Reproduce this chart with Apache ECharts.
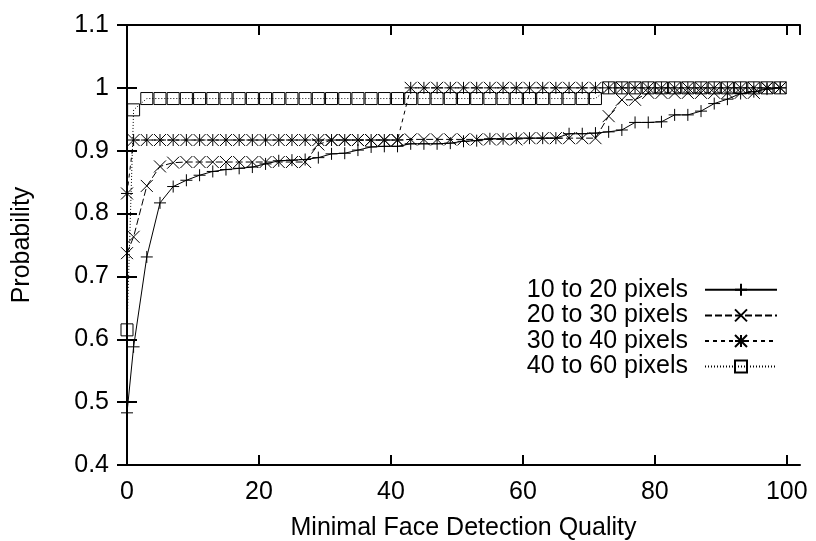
<!DOCTYPE html>
<html><head><meta charset="utf-8">
<script src="https://cdn.jsdelivr.net/npm/echarts@6/dist/echarts.min.js"></script>
<style>html,body{margin:0;padding:0;background:#fff}#c{width:816px;height:541px}</style>
</head><body><div id="c"></div>
<script>
const quality = [0,1,3,5,7,9,11,13,15,17,19,21,23,25,27,29,31,33,35,37,39,41,43,45,47,49,51,53,55,57,59,61,63,65,67,69,71,73,75,77,79,81,83,85,87,89,91,93,95,97,99];
const p10to20 = [0.483,0.588,0.731,0.817,0.843,0.853,0.861,0.867,0.870,0.872,0.874,0.879,0.884,0.885,0.886,0.889,0.895,0.896,0.901,0.906,0.907,0.907,0.911,0.911,0.911,0.912,0.915,0.916,0.919,0.919,0.920,0.920,0.920,0.920,0.927,0.927,0.928,0.930,0.933,0.945,0.945,0.946,0.957,0.957,0.963,0.975,0.982,0.991,0.994,0.998,1.0];
const p20to30 = [0.737,0.763,0.844,0.875,0.881,0.882,0.882,0.882,0.882,0.882,0.882,0.882,0.882,0.882,0.882,0.910,0.917,0.917,0.917,0.917,0.917,0.917,0.918,0.918,0.918,0.918,0.918,0.918,0.918,0.918,0.918,0.920,0.920,0.920,0.920,0.920,0.920,0.955,0.981,0.981,0.992,0.992,0.992,0.992,0.992,0.992,0.992,0.992,0.992,1.0,1.0];
const p30to40 = [0.832,0.917,0.917,0.917,0.917,0.917,0.917,0.917,0.917,0.917,0.917,0.917,0.917,0.917,0.917,0.917,0.917,0.917,0.917,0.917,0.917,0.917,1.0,1.0,1.0,1.0,1.0,1.0,1.0,1.0,1.0,1.0,1.0,1.0,1.0,1.0,1.0,1.0,1.0,1.0,1.0,1.0,1.0,1.0,1.0,1.0,1.0,1.0,1.0,1.0,1.0];
const p40to60 = [0.615,0.965,0.983,0.983,0.983,0.983,0.983,0.983,0.983,0.983,0.983,0.983,0.983,0.983,0.983,0.983,0.983,0.983,0.983,0.983,0.983,0.983,0.983,0.983,0.983,0.983,0.983,0.983,0.983,0.983,0.983,0.983,0.983,0.983,0.983,0.983,0.983,1.0,1.0,1.0,1.0,1.0,1.0,1.0,1.0,1.0,1.0,1.0,1.0,1.0,1.0];
const seriesNames = ['10 to 20 pixels','20 to 30 pixels','30 to 40 pixels','40 to 60 pixels'];
const xTicks = [0,20,40,60,80,100];
const yTicks = [0.4,0.5,0.6,0.7,0.8,0.9,1,1.1];

const FONT = 'Liberation Sans';
const FS = 25;
const symbols = [
  'path://M0,6L12,6M6,0L6,12',
  'path://M0,0L12,12M12,0L0,12',
  'path://M0,6L12,6M6,0L6,12M0,0L12,12M12,0L0,12',
  'path://M0,0L12,0L12,12L0,12Z'
];
const dashes = ['solid',[7,3],[4,4],[1,2]];
const values = [p10to20,p20to30,p30to40,p40to60];

const chart = echarts.init(document.getElementById('c'), null, {renderer:'canvas'});
const axisCommon = {
  axisLine:{show:true,lineStyle:{color:'#000',width:2}},
  axisTick:{show:true,inside:true,length:10,lineStyle:{color:'#000',width:2}},
  splitLine:{show:false}
};
chart.setOption({
  animation:false,
  backgroundColor:'#fff',
  textStyle:{fontFamily:FONT,color:'#000'},
  grid:{left:127,right:16,top:25,bottom:76,containLabel:false,outerBoundsMode:'none'},
  legend:{
    orient:'vertical', align:'right', right:38, top:277, padding:0,
    itemWidth:72, itemHeight:15, itemGap:0,
    textStyle:{fontFamily:FONT,fontSize:FS,color:'#000',lineHeight:25.6,padding:[0,12,0,0]},
    data:seriesNames
  },
  xAxis:[
    Object.assign({type:'value',min:0,max:102,interval:20,position:'bottom',
      name:'Minimal Face Detection Quality',nameLocation:'middle',nameGap:51,
      nameTextStyle:{fontFamily:FONT,fontSize:FS,color:'#000'},
      axisLabel:{color:'#000',fontFamily:FONT,fontSize:FS,margin:15,showMaxLabel:false,
        formatter:v=>xTicks.indexOf(v)>=0?String(v):''}},axisCommon),
    Object.assign({type:'value',min:0,max:102,interval:20,position:'top',axisLabel:{show:false}},axisCommon)
  ],
  yAxis:[
    Object.assign({type:'value',min:0.4,max:1.1,interval:0.1,position:'left',
      name:'Probability',nameLocation:'middle',nameGap:92,nameRotate:90,
      nameTextStyle:{fontFamily:FONT,fontSize:FS,color:'#000'},
      axisLabel:{color:'#000',fontFamily:FONT,fontSize:FS,margin:18,
        formatter:v=>String(+v.toFixed(1))}},axisCommon),
    Object.assign({type:'value',min:0.4,max:1.1,interval:0.1,position:'right',axisLabel:{show:false}},axisCommon)
  ],
  series: values.map((vals,i)=>({
    name:seriesNames[i], type:'line', xAxisIndex:0, yAxisIndex:0,
    data: quality.map((q,j)=>[q,vals[j]]),
    symbol:symbols[i], symbolSize:12, clip:false,
    lineStyle:{color:'#000',width:1,type:dashes[i]},
    itemStyle:{color:'rgba(0,0,0,0)',borderColor:'#000',borderWidth:1},
    emphasis:{disabled:true}
  }))
});
</script></body></html>
